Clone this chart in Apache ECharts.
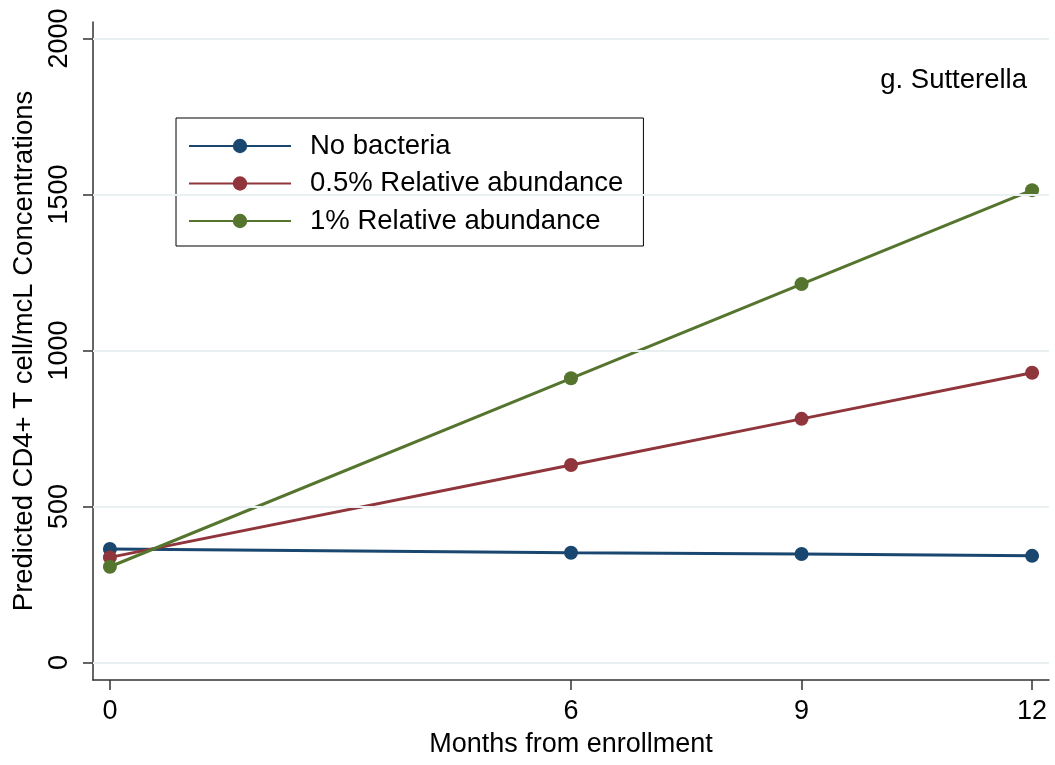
<!DOCTYPE html>
<html>
<head>
<meta charset="utf-8">
<script src="https://cdn.jsdelivr.net/npm/echarts@6/dist/echarts.min.js"></script>
<style>
  html, body { margin: 0; padding: 0; background: #fff; }
  #chart { width: 1055px; height: 765px; }
</style>
</head>
<body>
<div id="chart"></div>
<script>
// Predicted CD4+ T cell concentrations by months from enrollment
const months = [0, 6, 9, 12];
const noBacteria = [364, 352, 348, 342];
const relAbundHalf = [337, 633, 781, 929];
const relAbundOne = [307, 911, 1213, 1514];

const xTicks = [0, 6, 9, 12];
const yTicks = [0, 500, 1000, 1500, 2000];

const seriesNames = ['No bacteria', '0.5% Relative abundance', '1% Relative abundance'];
const seriesColors = ['#1a476f', '#90353b', '#55752f'];
const seriesValues = [noBacteria, relAbundHalf, relAbundOne];

const FONT = '"Liberation Sans", Arial, Helvetica, sans-serif';
const AXIS_COLOR = '#333333';

const chart = echarts.init(document.getElementById('chart'), null, { renderer: 'canvas' });

const lineSeries = seriesNames.map((name, i) => ({
  name: name,
  type: 'line',
  data: months.map((m, j) => [m, seriesValues[i][j]]),
  symbol: 'circle',
  symbolSize: 14,
  z: 3,
  color: seriesColors[i],
  itemStyle: { color: seriesColors[i] },
  lineStyle: { color: seriesColors[i], width: 3 },
  emphasis: { disabled: true },
  animation: false
}));

// horizontal grid lines at the labelled y ticks
const gridSeries = {
  name: 'grid',
  type: 'line',
  data: [],
  z: 1,
  silent: true,
  animation: false,
  markLine: {
    silent: true,
    symbol: 'none',
    animation: false,
    label: { show: false },
    lineStyle: { color: '#e8f0f2', width: 2, type: 'solid' },
    data: yTicks.map(v => ({ yAxis: v }))
  }
};

chart.setOption({
  backgroundColor: '#ffffff',
  animation: false,
  textStyle: { fontFamily: FONT },
  title: {
    text: 'g. Sutterella',
    right: 23,
    top: 61,
    textStyle: { fontFamily: FONT, fontSize: 27.5, fontWeight: 'normal', color: '#000' }
  },
  legend: {
    data: seriesNames,
    orient: 'vertical',
    left: 176,
    top: 118,
    padding: [13, 20, 10, 12],
    itemGap: 7.5,
    itemWidth: 102,
    itemHeight: 18,
    backgroundColor: '#fff',
    borderColor: '#000',
    borderWidth: 1,
    selectedMode: false,
    textStyle: {
      fontFamily: FONT, fontSize: 27.5, color: '#000',
      lineHeight: 30, padding: [0, 0, 0, 14]
    }
  },
  grid: { left: 93, right: 6, top: 22, bottom: 85, containLabel: false },
  xAxis: {
    type: 'value',
    min: -0.22,
    max: 12.22,
    name: 'Months from enrollment',
    nameLocation: 'middle',
    nameGap: 51,
    nameTextStyle: { fontFamily: FONT, fontSize: 27, color: '#000' },
    axisLine: { show: true, onZero: false, lineStyle: { color: AXIS_COLOR, width: 1.5 } },
    axisTick: { show: true, inside: false, length: 10, customValues: xTicks, lineStyle: { color: AXIS_COLOR, width: 1.5 } },
    axisLabel: { show: true, customValues: xTicks, margin: 18, fontFamily: FONT, fontSize: 27, color: '#000' },
    splitLine: { show: false }
  },
  yAxis: {
    type: 'value',
    min: -56,
    max: 2053,
    name: 'Predicted CD4+ T cell/mcL Concentrations',
    nameLocation: 'middle',
    nameGap: 55,
    nameRotate: 90,
    nameTextStyle: { fontFamily: FONT, fontSize: 27.5, color: '#000' },
    axisLine: { show: true, onZero: false, lineStyle: { color: AXIS_COLOR, width: 1.5 } },
    axisTick: { show: true, inside: false, length: 10, customValues: yTicks, lineStyle: { color: AXIS_COLOR, width: 1.5 } },
    axisLabel: {
      show: true, customValues: yTicks, rotate: 90, margin: 20,
      formatter: v => String(v),
      fontFamily: FONT, fontSize: 27, color: '#000'
    },
    splitLine: { show: false }
  },
  series: [gridSeries].concat(lineSeries)
});
</script>
</body>
</html>
